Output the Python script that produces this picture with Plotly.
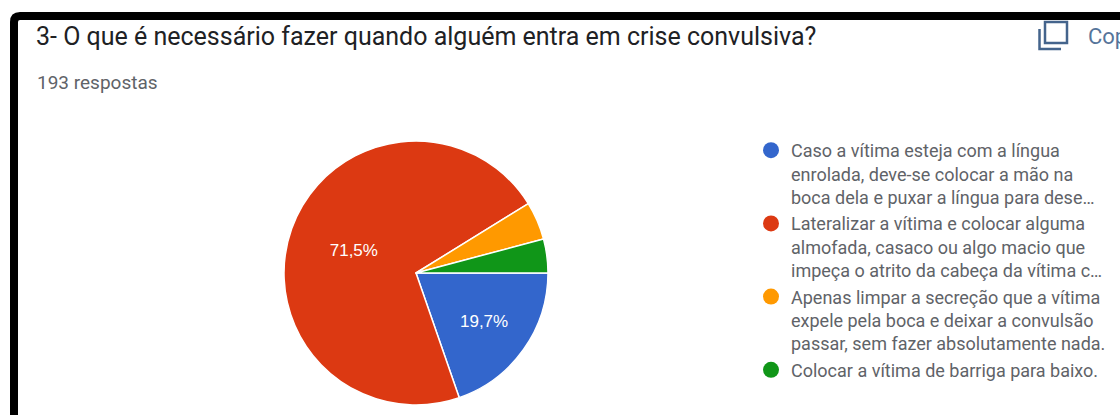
import plotly.graph_objects as go

# Canvas size in pixels; layout positions below are given in pixels and converted to paper units
W, H = 1120, 415

question = "3- O que é necessário fazer quando alguém entra em crise convulsiva?"
responses_label = "193 respostas"
copy_label = "Copiar"

options = [
    "Caso a vítima esteja com a língua<br>enrolada, deve-se colocar a mão na<br>boca dela e puxar a língua para dese…",
    "Lateralizar a vítima e colocar alguma<br>almofada, casaco ou algo macio que<br>impeça o atrito da cabeça da vítima c…",
    "Apenas limpar a secreção que a vítima<br>expele pela boca e deixar a convulsão<br>passar, sem fazer absolutamente nada.",
    "Colocar a vítima de barriga para baixo.",
]
counts = [38, 138, 9, 8]
colors = ["#3366cc", "#dc3912", "#ff9900", "#109618"]

total = sum(counts)


def pct_label(c):
    p = c / total * 100
    return f"{p:.1f}%".replace(".", ",") if p >= 10 else ""


def px(x):
    return x / W


def py(y):
    return 1 - y / H


fig = go.Figure()

fig.add_trace(go.Pie(
    labels=options,
    values=counts,
    text=[pct_label(c) for c in counts],
    textinfo="text",
    textposition="inside",
    insidetextorientation="horizontal",
    textfont=dict(family="Arial, Liberation Sans, sans-serif", size=17, color="#ffffff"),
    marker=dict(colors=colors, line=dict(color="#ffffff", width=1.5)),
    sort=False,
    direction="clockwise",
    rotation=90,
    showlegend=False,
    hoverinfo="label+percent",
    domain=dict(x=[px(280), px(552)], y=[py(405), py(141)]),
))

# Legend entries with round swatches
for name, col in zip(options, colors):
    fig.add_trace(go.Scatter(
        x=[None], y=[None], mode="markers", name=name,
        marker=dict(symbol="circle", size=16, color=col),
        showlegend=True,
    ))

# Dark frame along the top and left edges
frame_path = (
    f"M {px(14)} {py(430)} L {px(14)} {py(22)} "
    f"Q {px(14)} {py(16)} {px(20)} {py(16)} L {px(1140)} {py(16)}"
)
shapes = [
    dict(type="path", xref="paper", yref="paper", path=frame_path,
         line=dict(color="#000000", width=8), layer="above"),
    # copy icon: front sheet
    dict(type="rect", xref="paper", yref="paper",
         x0=px(1045), x1=px(1067), y0=py(43), y1=py(22),
         line=dict(color="#44648c", width=2.5)),
    # copy icon: back sheet corner
    dict(type="path", xref="paper", yref="paper",
         path=f"M {px(1039.5)} {py(29)} L {px(1039.5)} {py(49)} L {px(1061)} {py(49)}",
         line=dict(color="#44648c", width=2.5)),
]

annotations = [
    dict(text=question, x=px(34), y=py(37), xref="paper", yref="paper",
         xanchor="left", yanchor="middle", showarrow=False,
         font=dict(family="Roboto, Arial, sans-serif", size=25, color="#202124")),
    dict(text=responses_label, x=px(35), y=py(83), xref="paper", yref="paper",
         xanchor="left", yanchor="middle", showarrow=False,
         font=dict(family="Roboto, Arial, sans-serif", size=19, color="#5f6368")),
    dict(text=copy_label, x=px(1086), y=py(36), xref="paper", yref="paper",
         xanchor="left", yanchor="middle", showarrow=False,
         font=dict(family="Roboto, Arial, sans-serif", size=22, color="#56749a")),
]

fig.update_layout(
    width=W, height=H,
    autosize=False,
    margin=dict(l=0, r=0, t=0, b=0),
    paper_bgcolor="#ffffff",
    plot_bgcolor="#ffffff",
    xaxis=dict(visible=False),
    yaxis=dict(visible=False),
    shapes=shapes,
    annotations=annotations,
    legend=dict(
        x=px(751), y=py(132), xanchor="left", yanchor="top",
        valign="top",
        font=dict(family="Roboto, Arial, sans-serif", size=18, color="#5f6368"),
        bgcolor="rgba(0,0,0,0)", itemsizing="trace", tracegroupgap=0,
    ),
    showlegend=True,
)

fig.write_html("out.html")
